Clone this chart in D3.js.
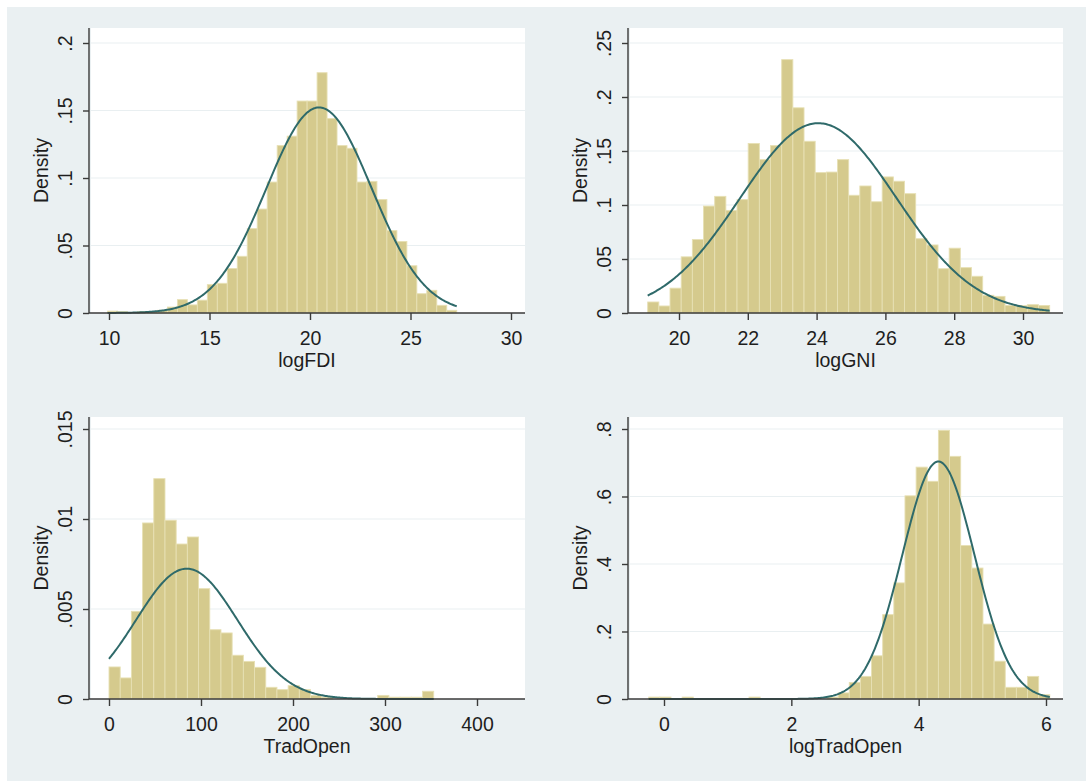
<!DOCTYPE html>
<html>
<head>
<meta charset="utf-8">
<script src="https://cdn.jsdelivr.net/npm/d3@7"></script>
<style>
  body { margin: 0; background: #ffffff; }
  text { font-family: "Liberation Sans", Arial, sans-serif; fill: #1e1e1e; }
</style>
</head>
<body>
<svg id="chart" width="1086" height="781"></svg>
<script>
// ---- data -------------------------------------------------------------
const variables = ["logFDI", "logGNI", "TradOpen", "logTradOpen"];

// first bin edge and bin width of each histogram
const binStart = [9.93, 19.09, 0, -0.24];
const binWidth = [0.4963, 0.3246, 12.17, 0.175];

// bar heights (density) per bin
const densLogFDI = [0.0014, 0.001, 0, 0.001, 0.001, 0.002, 0.0044, 0.0099, 0.006, 0.0095,
  0.021, 0.022, 0.033, 0.042, 0.0625, 0.077, 0.097, 0.124, 0.131, 0.157,
  0.157, 0.178, 0.144, 0.124, 0.122, 0.097, 0.0975, 0.084, 0.061, 0.053,
  0.035, 0.0143, 0.0168, 0.0057, 0.002];
const densLogGNI = [0.0102, 0.0065, 0.023, 0.052, 0.068, 0.099, 0.108, 0.095, 0.105, 0.157,
  0.142, 0.155, 0.2346, 0.19, 0.159, 0.13, 0.1305, 0.142, 0.109, 0.1176,
  0.103, 0.126, 0.122, 0.1105, 0.0688, 0.063, 0.041, 0.06, 0.042, 0.034,
  0.0164, 0.0154, 0.007, 0.0068, 0.0077, 0.007];
const densTradOpen = [0.00178, 0.00117, 0.00487, 0.00978, 0.01224, 0.00993, 0.00861, 0.009, 0.00613, 0.00385,
  0.00367, 0.00243, 0.00209, 0.00176, 0.00065, 0.00052, 0.00074, 0.00052, 0.0002, 0.0001,
  0, 0, 0, 0, 0.0002, 0.0001, 0.0001, 0.0001, 0.00043];
const densLogTradOpen = [0.0057, 0.0057, 0, 0.0057, 0, 0, 0, 0, 0, 0.0057,
  0, 0, 0, 0, 0, 0, 0.0057, 0.018, 0.049, 0.067,
  0.128, 0.25, 0.344, 0.602, 0.687, 0.645, 0.796, 0.719, 0.455, 0.388,
  0.222, 0.112, 0.0346, 0.0346, 0.067, 0.0128];
const densities = [densLogFDI, densLogGNI, densTradOpen, densLogTradOpen];

// fitted normal overlay: sample mean and standard deviation
const normMean = [20.45, 24.05, 84.5, 4.31];
const normSD = [2.62, 2.27, 55.1, 0.567];

// axis ticks and labels
const xTicks = [[10, 15, 20, 25, 30], [20, 22, 24, 26, 28, 30], [0, 100, 200, 300, 400], [0, 2, 4, 6]];
const yTicks = [[0, 0.05, 0.1, 0.15, 0.2], [0, 0.05, 0.1, 0.15, 0.2, 0.25], [0, 0.005, 0.01, 0.015], [0, 0.2, 0.4, 0.6, 0.8]];
const yTickLabels = [["0", ".05", ".1", ".15", ".2"], ["0", ".05", ".1", ".15", ".2", ".25"],
  ["0", ".005", ".01", ".015"], ["0", ".2", ".4", ".6", ".8"]];

// ---- layout -----------------------------------------------------------
const panels = [
  { left: 89, right: 525, top: 28, bottom: 313, xPx: [109, 511], yTopPx: 43 },
  { left: 628, right: 1063, top: 28, bottom: 313, xPx: [679, 1023], yTopPx: 43 },
  { left: 89, right: 525, top: 417, bottom: 699, xPx: [109, 477], yTopPx: 429 },
  { left: 628, right: 1063, top: 417, bottom: 699, xPx: [664, 1046], yTopPx: 429 }
];

const COLORS = {
  region: "#eaf0f2", plot: "#ffffff", grid: "#e9eff1",
  bar: "#d5ca8d", barEdge: "#e7e0b4", curve: "#2f6a6a", axis: "#3a3a3a"
};
const FONT = 19.5;

const svg = d3.select("#chart");
svg.append("rect").attr("x", 7).attr("y", 7).attr("width", 1079).attr("height", 774)
  .attr("fill", COLORS.region);

panels.forEach((p, i) => {
  const g = svg.append("g");
  const xt = xTicks[i], yt = yTicks[i];
  const x = d3.scaleLinear().domain([xt[0], xt[xt.length - 1]]).range(p.xPx);
  const y = d3.scaleLinear().domain([0, yt[yt.length - 1]]).range([p.bottom, p.yTopPx]);

  // plot area
  g.append("rect").attr("x", p.left + 2).attr("y", p.top)
    .attr("width", p.right - p.left - 2).attr("height", p.bottom - p.top)
    .attr("fill", COLORS.plot);

  // horizontal grid
  g.selectAll("line.grid").data(yt.filter(v => v > 0)).join("line")
    .attr("class", "grid")
    .attr("x1", p.left + 2).attr("x2", p.right)
    .attr("y1", d => y(d)).attr("y2", d => y(d))
    .attr("stroke", COLORS.grid).attr("stroke-width", 1.2);

  // histogram bars
  const bins = densities[i].map((d, k) => ({
    x0: binStart[i] + k * binWidth[i],
    x1: binStart[i] + (k + 1) * binWidth[i],
    d
  }));
  g.selectAll("rect.bar").data(bins.filter(b => b.d > 0)).join("rect")
    .attr("class", "bar")
    .attr("x", b => x(b.x0)).attr("width", b => x(b.x1) - x(b.x0))
    .attr("y", b => y(b.d)).attr("height", b => y(0) - y(b.d))
    .attr("fill", COLORS.bar).attr("stroke", COLORS.barEdge).attr("stroke-width", 0.9);

  // normal density over the data range
  const lo = binStart[i], hi = binStart[i] + densities[i].length * binWidth[i];
  const m = normMean[i], s = normSD[i];
  const pdf = v => Math.exp(-0.5 * ((v - m) / s) ** 2) / (s * Math.sqrt(2 * Math.PI));
  const pts = d3.range(0, 301).map(k => lo + (hi - lo) * k / 300);
  g.append("path").datum(pts)
    .attr("d", d3.line().x(v => x(v)).y(v => y(pdf(v))))
    .attr("fill", "none").attr("stroke", COLORS.curve).attr("stroke-width", 2);

  // axis lines
  g.append("line").attr("x1", p.left).attr("x2", p.left).attr("y1", p.top).attr("y2", p.bottom)
    .attr("stroke", COLORS.axis).attr("stroke-width", 1.4);
  g.append("line").attr("x1", p.left).attr("x2", p.right).attr("y1", p.bottom).attr("y2", p.bottom)
    .attr("stroke", COLORS.axis).attr("stroke-width", 1.4);

  // x axis ticks
  const xa = g.append("g").attr("transform", `translate(0,${p.bottom})`)
    .call(d3.axisBottom(x).tickValues(xt).tickSize(7).tickFormat(d3.format("d")));
  xa.select(".domain").remove();
  xa.selectAll(".tick line").attr("stroke", COLORS.axis).attr("stroke-width", 1.4);
  xa.selectAll(".tick text").attr("y", 32).attr("dy", null)
    .attr("font-size", FONT).attr("fill", "#1e1e1e");

  // y axis ticks, labels rotated
  const ya = g.append("g").attr("transform", `translate(${p.left},0)`)
    .call(d3.axisLeft(y).tickValues(yt).tickSize(6).tickFormat((d, k) => yTickLabels[i][k]));
  ya.select(".domain").remove();
  ya.selectAll(".tick line").attr("stroke", COLORS.axis).attr("stroke-width", 1.4);
  ya.selectAll(".tick text").attr("x", null).attr("dy", null).attr("y", null)
    .attr("transform", "translate(-17,0) rotate(-90)")
    .attr("text-anchor", "middle").attr("font-size", FONT).attr("fill", "#1e1e1e");

  // titles
  g.append("text").attr("x", (p.left + p.right) / 2).attr("y", p.bottom + 54)
    .attr("text-anchor", "middle").attr("font-size", FONT).text(variables[i]);
  g.append("text")
    .attr("transform", `translate(${p.left - 41},${(p.top + p.bottom) / 2}) rotate(-90)`)
    .attr("text-anchor", "middle").attr("font-size", FONT).text("Density");
});
</script>
</body>
</html>
